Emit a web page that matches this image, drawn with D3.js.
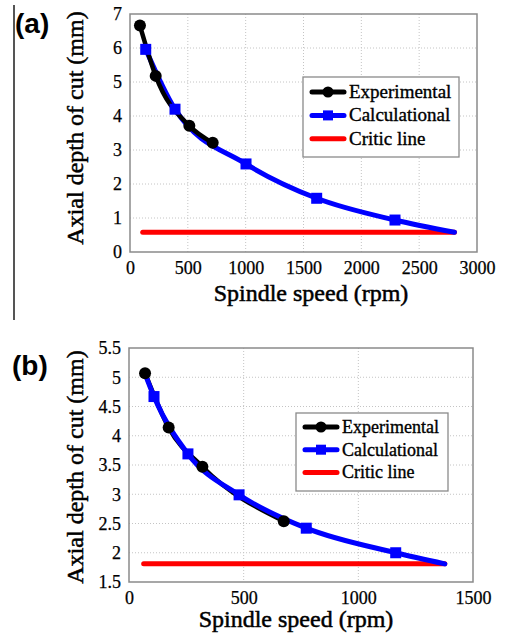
<!DOCTYPE html>
<html>
<head>
<meta charset="utf-8">
<script src="https://cdn.jsdelivr.net/npm/d3@7"></script>
<style>
  body { margin: 0; background: #fff; }
</style>
</head>
<body>
<div id="fig"></div>
<script>
// panel (a)
const expA_x = [86, 222, 513, 715];
const expA_y = [6.66, 5.18, 3.71, 3.21];
const calcA_x = [136, 389, 1003, 1614, 2291, 2805];
const calcA_y = [5.96, 4.2, 2.59, 1.58, 0.94, 0.58];
const calcA_mark = [1, 1, 1, 1, 1, 0];
const criticA_x = [110, 2805];
const criticA_y = 0.58;
const xTicksA = [0, 500, 1000, 1500, 2000, 2500, 3000];
const yTicksA = [0, 1, 2, 3, 4, 5, 6, 7];

// panel (b)
const expB_x = [70, 173, 320, 675];
const expB_y = [5.07, 4.14, 3.47, 2.54];
const calcB_x = [70, 109, 257, 480, 773, 1163, 1377];
const calcB_y = [5.06, 4.67, 3.69, 2.99, 2.42, 2.0, 1.81];
const calcB_mark = [0, 1, 1, 1, 1, 1, 0];
const criticB_x = [64, 1377];
const criticB_y = 1.81;
const xTicksB = [0, 500, 1000, 1500];
const yTicksB = [1.5, 2, 2.5, 3, 3.5, 4, 4.5, 5, 5.5];

const seriesNames = ["Experimental", "Calculational", "Critic line"];
const serif = "'Liberation Serif'";

function drawPanel(svg, cfg) {
    const x = d3.scaleLinear().domain(cfg.xDomain).range([cfg.left, cfg.right]);
    const y = d3.scaleLinear().domain(cfg.yDomain).range([cfg.bottom, cfg.top]);
    const g = svg.append("g");

    // dotted grid
    g.append("g").selectAll("line")
        .data(cfg.xTicks.slice(1, -1))
        .enter().append("line")
        .attr("x1", d => x(d)).attr("x2", d => x(d))
        .attr("y1", cfg.top).attr("y2", cfg.bottom)
        .attr("stroke", "#c4c4c4").attr("stroke-width", 1)
        .attr("stroke-dasharray", "1,2");
    g.append("g").selectAll("line")
        .data(cfg.yTicks.slice(1, -1))
        .enter().append("line")
        .attr("y1", d => y(d)).attr("y2", d => y(d))
        .attr("x1", cfg.left).attr("x2", cfg.right)
        .attr("stroke", "#c4c4c4").attr("stroke-width", 1)
        .attr("stroke-dasharray", "1,2");

    // axes (labels only, box drawn separately)
    const xAxis = g.append("g")
        .attr("transform", "translate(0," + cfg.bottom + ")")
        .call(d3.axisBottom(x).tickValues(cfg.xTicks).tickSize(0).tickPadding(9).tickFormat(d3.format("d")));
    const yAxis = g.append("g")
        .attr("transform", "translate(" + cfg.left + ",0)")
        .call(d3.axisLeft(y).tickValues(cfg.yTicks).tickSize(0).tickPadding(8).tickFormat(d => String(d)));
    [xAxis, yAxis].forEach(a => {
        a.attr("font-family", null).attr("font-size", null);
        a.select(".domain").remove();
        a.selectAll("text")
            .style("font-family", serif)
            .style("font-size", "18px")
            .attr("fill", "#000")
            .attr("stroke", "#000").attr("stroke-width", 0.25);
    });

    g.append("rect")
        .attr("x", cfg.left).attr("y", cfg.top)
        .attr("width", cfg.right - cfg.left).attr("height", cfg.bottom - cfg.top)
        .attr("fill", "none").attr("stroke", "#8a8a8a").attr("stroke-width", 1.5);

    const line = d3.line().x(d => x(d[0])).y(d => y(d[1])).curve(d3.curveMonotoneX);
    const exp = cfg.expX.map((v, i) => [v, cfg.expY[i]]);
    const calc = cfg.calcX.map((v, i) => [v, cfg.calcY[i], cfg.calcMark[i]]);

    // critic line
    g.append("line")
        .attr("x1", x(cfg.criticX[0])).attr("x2", x(cfg.criticX[1]))
        .attr("y1", y(cfg.criticY)).attr("y2", y(cfg.criticY))
        .attr("stroke", "#ff0000").attr("stroke-width", 5).attr("stroke-linecap", "round");

    const drawExpLine = () => g.append("path").datum(exp).attr("d", line)
        .attr("fill", "none").attr("stroke", "#000").attr("stroke-width", 4.5);
    const drawCalcLine = () => g.append("path").datum(calc).attr("d", line)
        .attr("fill", "none").attr("stroke", "#0000ff").attr("stroke-width", 5)
        .attr("stroke-linecap", "round");
    if (cfg.calcOnTop) { drawExpLine(); drawCalcLine(); } else { drawCalcLine(); drawExpLine(); }

    g.append("g").selectAll("circle")
        .data(exp).enter().append("circle")
        .attr("cx", d => x(d[0])).attr("cy", d => y(d[1])).attr("r", 6)
        .attr("fill", "#000");
    g.append("g").selectAll("rect")
        .data(calc.filter(d => d[2])).enter().append("rect")
        .attr("x", d => x(d[0]) - 5.5).attr("y", d => y(d[1]) - 5.5)
        .attr("width", 11).attr("height", 11)
        .attr("fill", "#0000ff");

    // legend
    const lg = g.append("g").attr("transform", "translate(" + cfg.legend.x + "," + cfg.legend.y + ")");
    lg.append("rect").attr("width", cfg.legend.w).attr("height", cfg.legend.h)
        .attr("fill", "#fff").attr("stroke", "#8a8a8a").attr("stroke-width", 1.3);
    const colors = ["#000", "#0000ff", "#ff0000"];
    seriesNames.forEach((name, i) => {
        const yy = cfg.legend.row0 + i * cfg.legend.step;
        lg.append("line").attr("x1", 9).attr("x2", 41).attr("y1", yy).attr("y2", yy)
            .attr("stroke", colors[i]).attr("stroke-width", 5).attr("stroke-linecap", "round");
        if (i === 0) lg.append("circle").attr("cx", 25).attr("cy", yy).attr("r", 5.5).attr("fill", "#000");
        if (i === 1) lg.append("rect").attr("x", 20).attr("y", yy - 5).attr("width", 10).attr("height", 10).attr("fill", "#0000ff");
        lg.append("text").attr("x", 46).attr("y", yy + 6)
            .style("font-family", serif)
            .style("font-size", cfg.legend.font + "px")
            .attr("stroke", "#000").attr("stroke-width", 0.35)
            .text(name);
    });

    // titles
    g.append("text").attr("x", cfg.xTitle[0]).attr("y", cfg.xTitle[1])
        .attr("text-anchor", "middle")
        .style("font-family", serif).style("font-size", "24px")
        .attr("stroke", "#000").attr("stroke-width", 0.5)
        .text("Spindle speed (rpm)");
    g.append("text")
        .attr("transform", "translate(" + cfg.yTitle[0] + "," + cfg.yTitle[1] + ") rotate(-90)")
        .attr("text-anchor", "middle")
        .style("font-family", serif).style("font-size", "24px")
        .attr("stroke", "#000").attr("stroke-width", 0.5)
        .text("Axial depth of cut (mm)");
    g.append("text").attr("x", cfg.tag[0]).attr("y", cfg.tag[1])
        .style("font-family", "'Liberation Sans'")
        .style("font-weight", "bold").style("font-size", "28px")
        .text(cfg.tagText);
}

const svg = d3.select("#fig").append("svg").attr("width", 507).attr("height", 641);

svg.append("line").attr("x1", 14).attr("x2", 14).attr("y1", 5).attr("y2", 320)
    .attr("stroke", "#555").attr("stroke-width", 2);

drawPanel(svg, {
    xDomain: [0, 3000], yDomain: [0, 7],
    left: 130, right: 477, top: 14, bottom: 252,
    xTicks: xTicksA, yTicks: yTicksA,
    expX: expA_x, expY: expA_y,
    calcX: calcA_x, calcY: calcA_y, calcMark: calcA_mark,
    criticX: criticA_x, criticY: criticA_y,
    calcOnTop: false,
    legend: {x: 303, y: 77, w: 156, h: 80, row0: 15, step: 23.4, font: 19},
    xTitle: [311, 301], yTitle: [83, 128],
    tag: [15, 33], tagText: "(a)"
});

drawPanel(svg, {
    xDomain: [0, 1500], yDomain: [1.5, 5.5],
    left: 129, right: 473, top: 348, bottom: 582,
    xTicks: xTicksB, yTicks: yTicksB,
    expX: expB_x, expY: expB_y,
    calcX: calcB_x, calcY: calcB_y, calcMark: calcB_mark,
    criticX: criticB_x, criticY: criticB_y,
    calcOnTop: true,
    legend: {x: 296, y: 413, w: 152, h: 78, row0: 14, step: 22.7, font: 18},
    xTitle: [296, 627], yTitle: [83, 467],
    tag: [12, 375], tagText: "(b)"
});
</script>
</body>
</html>
